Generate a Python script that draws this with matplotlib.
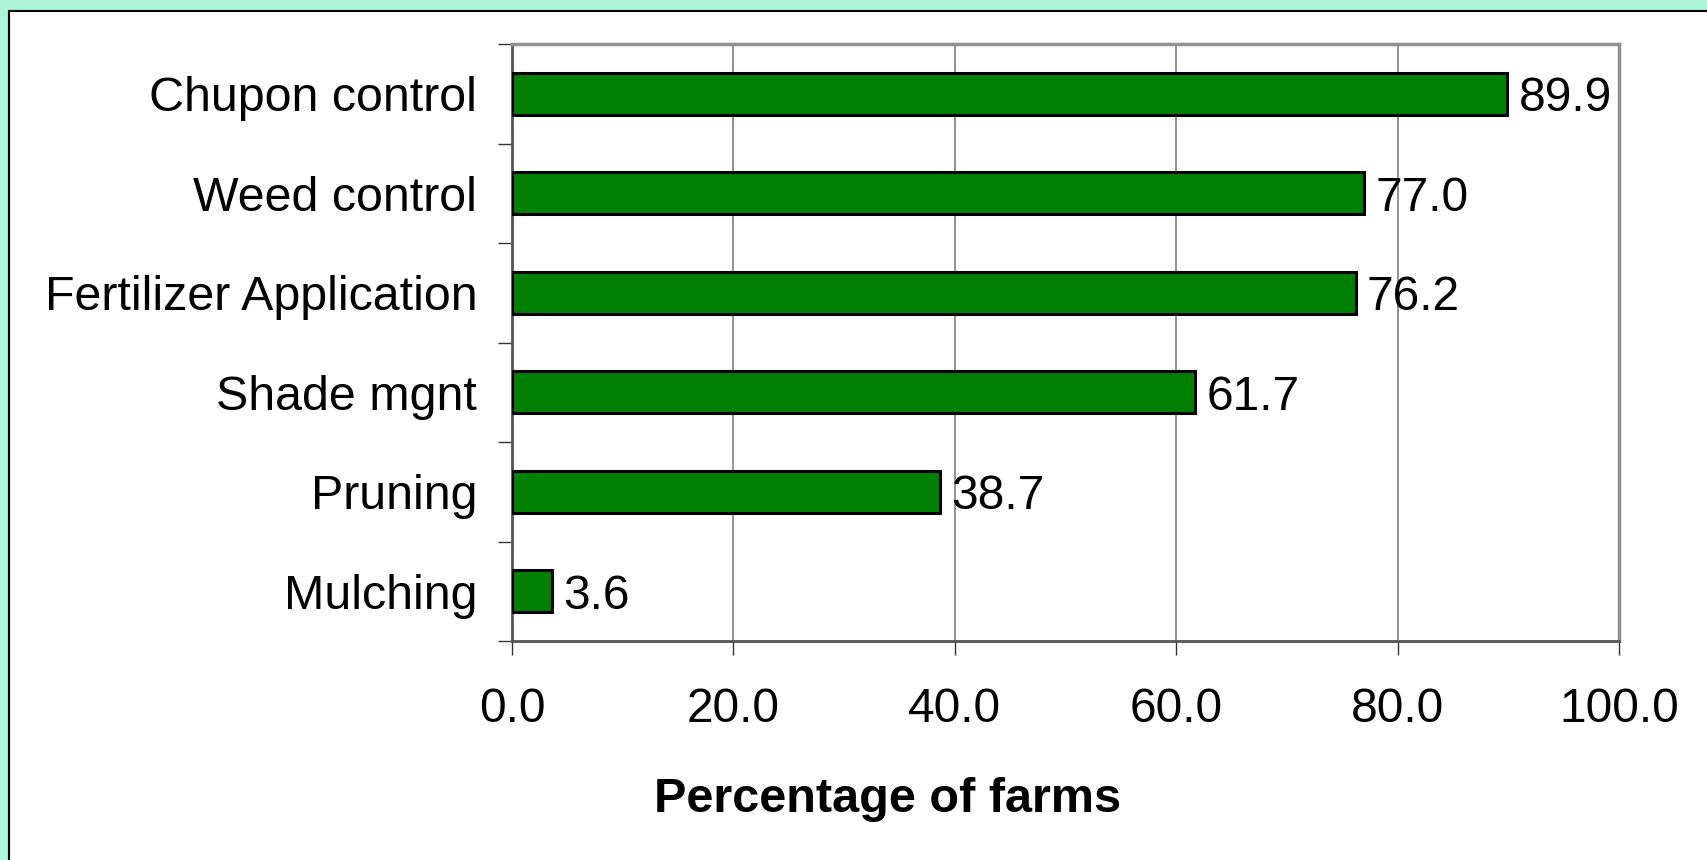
import matplotlib
matplotlib.use("Agg")
import matplotlib.pyplot as plt
from matplotlib.patches import Rectangle

plt.rcParams["font.family"] = ["Liberation Sans", "DejaVu Sans"]

practices = ["Chupon control", "Weed control", "Fertilizer Application",
             "Shade mgnt", "Pruning", "Mulching"]
percent = [89.9, 77.0, 76.2, 61.7, 38.7, 3.6]
xticks = [0, 20, 40, 60, 80, 100]

fig = plt.figure(figsize=(17.07, 8.6), dpi=100)
fig.patch.set_facecolor("#abf4d9")

# white panel with black border, running off the right/bottom edges
fig.patches.append(Rectangle((9 / 1707, -0.05), 1.2, 0.987 + 0.05,
                             transform=fig.transFigure, facecolor="white",
                             edgecolor="black", linewidth=1.5, zorder=-1))

ax = fig.add_axes([0.2999, 0.2545, 0.6486, 0.6943])
ax.set_facecolor("white")

ypos = list(range(len(practices)))[::-1]
ax.barh(ypos, percent, height=0.42, color="#008000", edgecolor="black",
        linewidth=2.2, zorder=3)

for y, v in zip(ypos, percent):
    ax.annotate(f"{v:.1f}", xy=(v, y), xytext=(8, 0), textcoords="offset points",
                va="center_baseline", ha="left", fontsize=34.5, zorder=4)

ax.set_xlim(0, 100)
ax.set_ylim(-0.5, len(practices) - 0.5)
ax.set_xticks(xticks)
ax.set_xticklabels([f"{t:.1f}" for t in xticks])
ax.set_yticks(ypos)
ax.set_yticklabels(practices)
ax.tick_params(axis="y", length=0, pad=25, labelsize=34.8)
ax.tick_params(axis="x", length=10, width=1, color="#333333", pad=23, labelsize=34.5)
# category boundary ticks on y axis
ax.set_yticks([i - 0.5 for i in range(len(practices) + 1)], minor=True)
ax.tick_params(axis="y", which="minor", length=10, width=1, color="#333333")

ax.grid(True, axis="x", color="#808080", linewidth=1.2, zorder=0)
for side in ["top", "right"]:
    ax.spines[side].set_color("#909090")
    ax.spines[side].set_linewidth(2.5)
for side in ["left", "bottom"]:
    ax.spines[side].set_color("#555555")
    ax.spines[side].set_linewidth(2)

ax.set_xlabel("Percentage of farms", fontsize=35, fontweight="bold")
ax.xaxis.set_label_coords(0.339, -0.228)

fig.savefig("out.png", dpi=100, facecolor=fig.get_facecolor())
